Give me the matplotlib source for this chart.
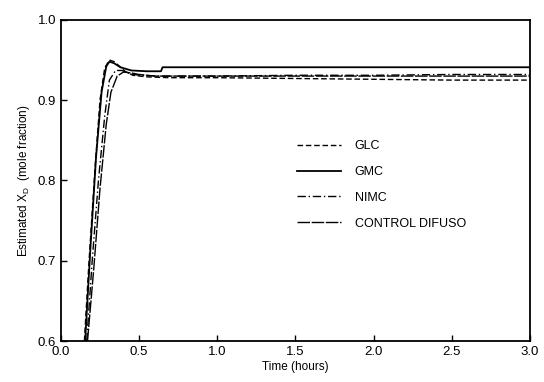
import matplotlib
matplotlib.use("Agg")
import matplotlib.pyplot as plt

plt.rcParams['font.family'] = ['Liberation Sans', 'DejaVu Sans']

# Data
glc_t = [0.15, 0.18, 0.22, 0.25, 0.28, 0.31, 0.34, 0.37, 0.41, 0.46, 0.55, 0.70, 1.0, 1.5, 2.0, 2.5, 3.0]
glc_y = [0.60, 0.70, 0.82, 0.90, 0.940, 0.950, 0.948, 0.943, 0.936, 0.931, 0.929, 0.928, 0.928, 0.927, 0.926, 0.925, 0.925]

gmc_t = [0.155, 0.19, 0.225, 0.26, 0.29, 0.31, 0.34, 0.38, 0.45, 0.55, 0.64, 0.65, 1.0, 1.5, 2.0, 2.5, 3.0]
gmc_y = [0.60, 0.72, 0.83, 0.91, 0.942, 0.948, 0.946, 0.941, 0.937, 0.936, 0.936, 0.941, 0.941, 0.941, 0.941, 0.941, 0.941]

nimc_t = [0.165, 0.20, 0.24, 0.28, 0.31, 0.35, 0.39, 0.44, 0.50, 0.65, 1.0, 1.5, 2.0, 2.5, 3.0]
nimc_y = [0.60, 0.70, 0.80, 0.88, 0.925, 0.937, 0.937, 0.933, 0.931, 0.930, 0.930, 0.931, 0.931, 0.932, 0.932]

cd_t = [0.17, 0.21, 0.25, 0.29, 0.32, 0.36, 0.40, 0.45, 0.50, 0.60, 1.0, 1.5, 2.0, 2.5, 3.0]
cd_y = [0.60, 0.69, 0.79, 0.87, 0.910, 0.930, 0.935, 0.934, 0.932, 0.930, 0.930, 0.930, 0.930, 0.930, 0.930]

xticks = [0.0, 0.5, 1.0, 1.5, 2.0, 2.5, 3.0]
yticks = [0.6, 0.7, 0.8, 0.9, 1.0]

fig = plt.figure(figsize=(5.44, 3.82), dpi=100)
ax = fig.add_axes([0.112, 0.107, 0.862, 0.841])

ax.plot(glc_t, glc_y, color='black', lw=1.0, ls=(0, (4, 2)), label='GLC')
ax.plot(gmc_t, gmc_y, color='black', lw=1.3, ls='-', label='GMC')
ax.plot(nimc_t, nimc_y, color='black', lw=1.0, ls=(0, (6, 2, 1, 2)), label='NIMC')
ax.plot(cd_t, cd_y, color='black', lw=1.0, ls=(0, (9, 1.2)), label='CONTROL DIFUSO')

ax.set_xlim(0, 3.0)
ax.set_ylim(0.6, 1.0)
ax.set_xticks(xticks)
ax.set_yticks(yticks)
ax.set_xticklabels([f"{v:.1f}" for v in xticks])
ax.set_yticklabels([f"{v:.1f}" for v in yticks])
ax.tick_params(direction='in', length=4, width=1, labelsize=9.5, top=False, right=False)
for s in ax.spines.values():
    s.set_linewidth(1.3)

ax.set_xlabel('Time (hours)', fontsize=8.5, labelpad=2)
ax.set_ylabel('Estimated X$_\\mathregular{D}$  (mole fraction)', fontsize=8.5, labelpad=4)

leg = ax.legend(loc='upper left', bbox_to_anchor=(0.48, 0.66), frameon=False,
                fontsize=9, handlelength=3.5, labelspacing=1.1, handletextpad=1.1)

fig.savefig('out.png', dpi=100)
